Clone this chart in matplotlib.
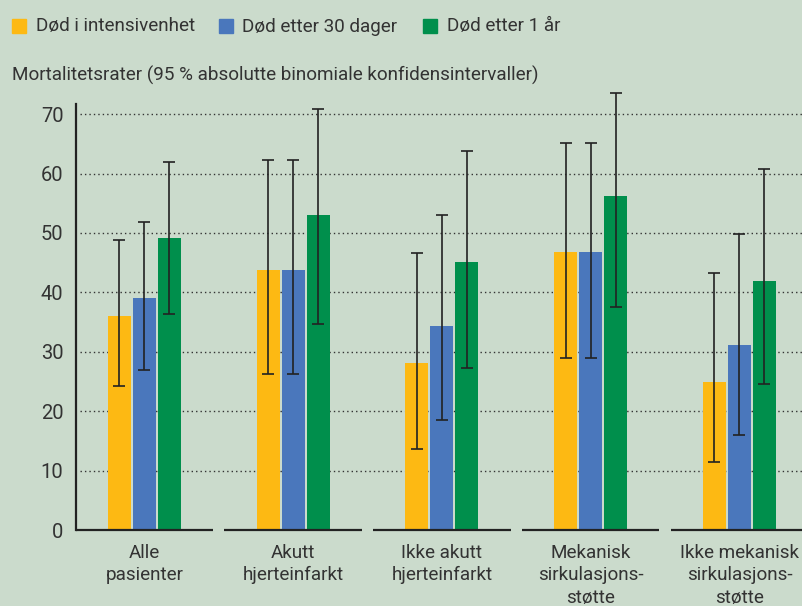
import matplotlib
matplotlib.use("Agg")
import matplotlib.pyplot as plt
from matplotlib.patches import Rectangle
import numpy as np

plt.rcParams['font.family'] = ['Roboto', 'DejaVu Sans']

categories = ["Alle\npasienter", "Akutt\nhjerteinfarkt", "Ikke akutt\nhjerteinfarkt",
              "Mekanisk\nsirkulasjons-\nstøtte", "Ikke mekanisk\nsirkulasjons-\nstøtte"]
series_names = ["Død i intensivenhet", "Død etter 30 dager", "Død etter 1 år"]
icu = [36.0, 43.8, 28.1, 46.8, 24.9]
icu_lo = [24.2, 26.3, 13.6, 29.0, 11.4]
icu_hi = [48.8, 62.2, 46.6, 65.2, 43.3]
d30 = [39.1, 43.8, 34.3, 46.8, 31.1]
d30_lo = [27.0, 26.3, 18.5, 29.0, 16.0]
d30_hi = [51.9, 62.2, 53.0, 65.2, 49.9]
y1 = [49.2, 53.0, 45.1, 56.2, 41.9]
y1_lo = [36.3, 34.6, 27.2, 37.5, 24.5]
y1_hi = [62.0, 70.8, 63.8, 73.5, 60.8]
yticks = [0, 10, 20, 30, 40, 50, 60, 70]

colors = ["#FDB913", "#4A77BC", "#008F4C"]
bg = "#CBDBCC"
txt = "#333333"

fig = plt.figure(figsize=(8.03, 6.06), dpi=100, facecolor=bg)
ax = fig.add_axes([76/803, 76/606, 1 - 76/803, (530-104)/606])
ax.set_facecolor(bg)

x = np.arange(len(categories))
w = 0.155
step = 0.168
vals = [icu, d30, y1]
los = [icu_lo, d30_lo, y1_lo]
his = [icu_hi, d30_hi, y1_hi]
for i in range(3):
    v = np.array(vals[i]); lo = np.array(los[i]); hi = np.array(his[i])
    xs = x + (i - 1) * step
    ax.bar(xs, v, width=w, color=colors[i], zorder=3)
    ax.errorbar(xs, v, yerr=[v - lo, hi - v], fmt='none', ecolor='#222222',
                elinewidth=1.2, capsize=4.3, capthick=1.2, zorder=4, clip_on=False)

for xi in x:
    ax.plot([xi - 0.462, xi + 0.462], [0, 0], color='#222222', lw=1.6, zorder=5,
            solid_capstyle='butt', clip_on=False)

for yv in yticks[1:]:
    ax.axhline(yv, xmin=0.006, xmax=1, color='#333333', lw=1.0, ls=(0, (1, 2.2)), zorder=1)

ax.set_xlim(-0.46, 4.427)
ax.set_ylim(0, 71.7)
ax.set_yticks(yticks)
ax.set_yticklabels([str(t) for t in yticks], fontsize=14.5, color=txt)
ax.tick_params(axis='y', length=0, pad=9)
ax.set_xticks(x)
ax.set_xticklabels(categories, fontsize=13.6, color=txt, linespacing=1.32)
ax.tick_params(axis='x', length=0, pad=10)
for s in ['top', 'right', 'bottom']:
    ax.spines[s].set_visible(False)
ax.spines['left'].set_color('#222222')
ax.spines['left'].set_linewidth(1.6)

# legend
W, H = 803, 606
leg = [(12, 36), (219, 242), (423, 447)]
for (sx, tx), c, name in zip(leg, colors, series_names):
    fig.patches.append(Rectangle((sx / W, 1 - 32.5 / H), 14 / W, 14 / H,
                                 transform=fig.transFigure, color=c))
    fig.text(tx / W, 1 - 26.5 / H, name, fontsize=13.6, color=txt, va='center', ha='left')

fig.text(12 / W, 1 - 75 / H, "Mortalitetsrater (95 % absolutte binomiale konfidensintervaller)",
         fontsize=13.6, color=txt, va='center', ha='left')

fig.savefig("out.png", dpi=100, facecolor=bg)
